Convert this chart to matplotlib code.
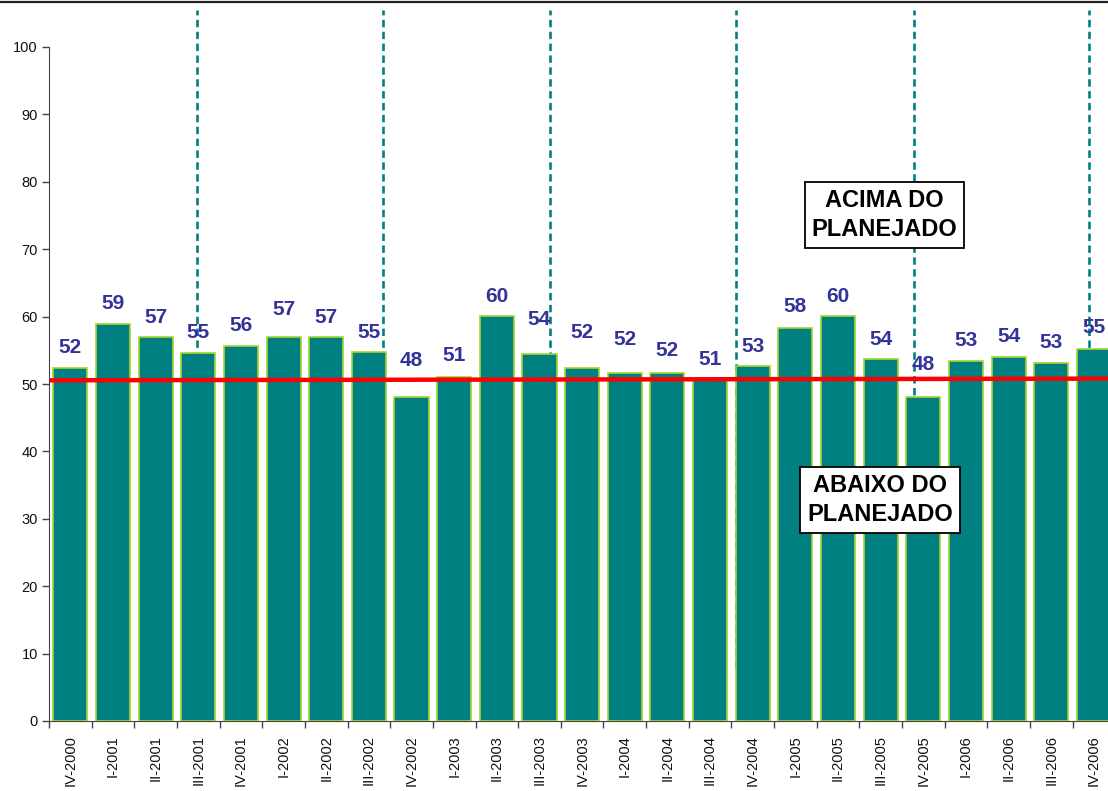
import matplotlib
matplotlib.use("Agg")
import matplotlib.pyplot as plt
from matplotlib.lines import Line2D
import numpy as np

plt.rcParams['font.family'] = ['Liberation Sans', 'DejaVu Sans']

categories = ["IV-2000", "I-2001", "II-2001", "III-2001", "IV-2001", "I-2002", "II-2002",
              "III-2002", "IV-2002", "I-2003", "II-2003", "III-2003", "IV-2003", "I-2004",
              "II-2004", "III-2004", "IV-2004", "I-2005", "II-2005", "III-2005", "IV-2005",
              "I-2006", "II-2006", "III-2006", "IV-2006"]
values = [52.3, 58.9, 56.9, 54.6, 55.6, 56.9, 56.9, 54.7, 48.1, 51.1, 60.1, 54.4, 52.3,
          51.7, 51.7, 50.8, 52.6, 58.3, 60.1, 53.7, 48.0, 53.4, 54.0, 53.1, 55.2]
plan_start = 50.55
plan_end = 50.8

# label placement above each bar (pixels)
label_offset_px = [20.6, 20.7, 20.4, 20.0, 20.3, 28.4, 20.4, 20.3, 36.7, 21.3, 19.3, 35.3, 36.0,
                   33.4, 22.0, 19.5, 20.3, 21.3, 19.3, 20.0, 33.3, 21.0, 20.3, 20.6, 21.0]
divider_x = [2.96, 7.33, 11.25, 15.61, 19.77, 23.89]

W, H = 1108, 791
fig = plt.figure(figsize=(W / 100, H / 100), dpi=100)
cat_w = 42.65
ax = fig.add_axes([49 / W, 1 - 721 / H, 25 * cat_w / W, (721 - 47) / H])

x = np.arange(len(categories))
ax.bar(x, values, width=0.8, color="#008080", edgecolor="#A6D32E", linewidth=1.2, zorder=3)

ax.set_xlim(-0.5, len(categories) - 0.5)
ax.set_ylim(0, 100)

# dashed dividers
for dx in divider_x:
    ax.plot([dx, dx], [7.9, 105.5], color="#008080", lw=1.9, dashes=(2.8, 1.7),
            zorder=2, clip_on=False, solid_capstyle='butt', dash_capstyle='butt')

# planned line
ax.plot([-0.48, len(categories) - 0.5], [plan_start, plan_end], color="#FF0000", lw=3.2,
        zorder=5, clip_on=False, solid_capstyle='butt')

# value labels
for xi, v, off in zip(x, values, label_offset_px):
    ax.annotate(f"{v:.0f}", (xi, v), xytext=(0, off * 0.72), textcoords="offset points",
                ha="center", va="center", fontsize=15, fontweight="bold", color="#333399",
                zorder=6)

# spines & ticks
for s in ["top", "right"]:
    ax.spines[s].set_visible(False)
ax.spines["left"].set_color("#444444")
ax.spines["bottom"].set_color("#444444")
ax.set_yticks(np.arange(0, 101, 10))
ax.tick_params(axis="y", length=5, width=1, color="#444444", labelsize=10.5, pad=3,
               labelcolor="#111111")
ax.set_xticks(x)
ax.set_xticklabels(categories, rotation=90, fontsize=10.5, color="#111111")
ax.tick_params(axis="x", which="major", length=0, pad=10)
ax.set_xticks(np.arange(-0.5, len(categories), 1), minor=True)
ax.tick_params(axis="x", which="minor", length=5, width=1, color="#444444")

# annotation boxes
box = dict(boxstyle="square,pad=0.3", facecolor="white", edgecolor="black", linewidth=1.3)
ax.text(19.09, 75.1, "ACIMA DO\nPLANEJADO", ha="center", va="center", fontsize=17,
        fontweight="bold", linespacing=1.3, bbox=box, zorder=7)
ax.text(18.98, 32.8, "ABAIXO DO\nPLANEJADO", ha="center", va="center", fontsize=17,
        fontweight="bold", linespacing=1.3, bbox=box, zorder=7)

# top frame line
fig.add_artist(Line2D([0, 1], [1 - 1.5 / H, 1 - 1.5 / H], color="#222222", lw=1.6,
                      transform=fig.transFigure))

fig.savefig("out.png", dpi=100)
